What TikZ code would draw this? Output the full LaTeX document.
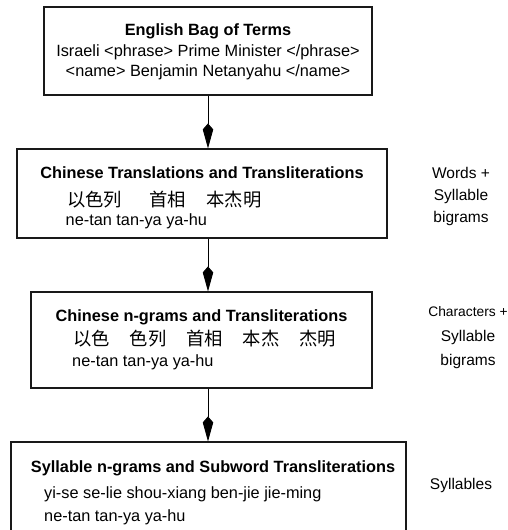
\documentclass[tikz,border=0pt]{standalone}
\usepackage{fontspec}
\setmainfont{Liberation Sans}
\newfontfamily\cjkfont{Noto Sans CJK SC}
\usetikzlibrary{arrows.meta}

\begin{document}
\fontsize{16.3}{19}\selectfont
\begin{tikzpicture}[x=1pt, y=-1pt,
  box/.style={draw=black!90, line width=1.1pt, inner sep=0pt},
  head/.style={font=\bfseries, anchor=base, inner sep=0pt},
  txt/.style={anchor=base, inner sep=0pt},
  txtl/.style={anchor=base west, inner sep=0pt},
  cjk/.style={font={\cjkfont\fontsize{18.3}{20}\selectfont}, anchor=base west, inner sep=0pt},
  side/.style={align=center, inner sep=0pt},
  link/.style={line width=0.9pt, -{Kite[length=25pt, width=10.5pt, inset=6pt]}}
]
\useasboundingbox (0,0) rectangle (508,530);
\clip (0,0) rectangle (508,530);

% boxes
\node[box, minimum width=328pt, minimum height=88pt] (eng) at (208,51) {};
\node[box, minimum width=370pt, minimum height=89pt] (trans) at (202,193.5) {};
\node[box, minimum width=341pt, minimum height=96pt] (ngram) at (201.5,340) {};
\node[box, minimum width=395pt, minimum height=103pt] (syl) at (208.5,493.5) {};

% box contents
\node[head] (engT) at (208,35) {English Bag of Terms};
\node[txt] (engA) at (208,56) {Israeli <phrase> Prime Minister </phrase>};
\node[txt] (engB) at (208,76) {<name> Benjamin Netanyahu </name>};

\node[head] (transT) at (202,178) {Chinese Translations and Transliterations};
\node[cjk] (transC) at (67,206) {以色列\hspace{27pt}首相\hspace{21pt}本杰明};
\node[txtl] (transP) at (65.5,225) {ne-tan tan-ya ya-hu};

\node[head] (ngramT) at (201.5,321) {Chinese n-grams and Transliterations};
\node[cjk] (ngramC) at (73,345) {以色\hspace{20pt}色列\hspace{20pt}首相\hspace{20pt}本杰\hspace{20pt}杰明};
\node[txtl] (ngramP) at (72,366) {ne-tan tan-ya ya-hu};

\node[head] (sylT) at (213,472) {Syllable n-grams and Subword Transliterations};
\node[txtl] (sylA) at (44,498) {yi-se se-lie shou-xiang ben-jie jie-ming};
\node[txtl] (sylB) at (44,521) {ne-tan tan-ya ya-hu};

% level labels
\node[side, font=\fontsize{15.5}{22}\selectfont] (lvlA) at (461,196) {Words +\\Syllable\\bigrams};
\node[side, font=\fontsize{15.5}{24.5}\selectfont] (lvlB) at (468,338) {{\fontsize{13.8}{22}\selectfont Characters +}\\Syllable\\bigrams};
\node[side, anchor=base, font=\fontsize{15.5}{19}\selectfont] (lvlC) at (461,489) {Syllables};

% arrows
\draw[link] (eng.south) -- (eng.south |- trans.north);
\draw[link] (eng.south |- trans.south) -- (eng.south |- ngram.north);
\draw[link] (eng.south |- ngram.south) -- (eng.south |- syl.north);
\end{tikzpicture}
\end{document}
